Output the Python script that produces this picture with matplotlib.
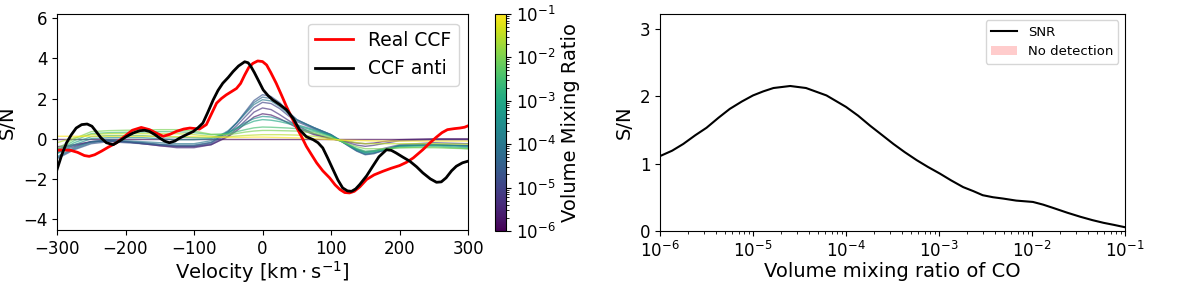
import matplotlib
matplotlib.use("Agg")
import matplotlib.pyplot as plt
import numpy as np
from matplotlib.colors import LogNorm
from matplotlib.patches import Patch
from matplotlib.lines import Line2D

# --- left panel: CCFs ---
v_real = [-300, -290, -280, -270, -260, -253, -245, -235, -225, -213, -200, -190, -177, -165, -155,
          -145, -135, -126, -115, -106, -92, -82, -75, -67, -60, -53, -45, -38, -32, -26, -20, -14,
          -7, 0, 6, 12, 20, 28, 35, 42, 49, 57, 64, 72, 79, 88, 98, 106, 113, 120, 127, 134, 142,
          152, 163, 176, 188, 200, 210, 220, 234, 244, 254, 262, 270, 280, 288, 295, 300]
snr_real = [-0.58, -0.56, -0.58, -0.68, -0.84, -0.88, -0.8, -0.62, -0.42, -0.2, 0.15, 0.42, 0.56, 0.45, 0.28,
            0.12, 0.22, 0.36, 0.48, 0.53, 0.48, 0.7, 1.2, 1.77, 2.0, 2.18, 2.35, 2.5, 2.75, 3.17, 3.55, 3.75,
            3.87, 3.84, 3.67, 3.3, 2.76, 2.15, 1.6, 1.1, 0.61, 0.1, -0.38, -0.82, -1.2, -1.6, -1.95, -2.3, -2.53, -2.68, -2.7, -2.62, -2.4,
            -2.03, -1.8, -1.62, -1.47, -1.34, -1.18, -0.96, -0.55, -0.22, 0.08, 0.3, 0.45, 0.5, 0.53, 0.57, 0.64]

v_anti = [-300, -293, -286, -279, -272, -264, -256, -249, -243, -236, -228, -218, -208, -199, -189,
          -179, -172, -165, -157, -150, -143, -136, -128, -121, -111, -101, -94, -87, -80, -72, -65,
          -58, -50, -43, -35, -26, -21, -17, -12, -6, 1, 8, 15, 25, 35, 45, 54, 64, 74, 81, 88, 95,
          103, 110, 117, 124, 130, 136, 142, 152, 161, 170, 181, 188, 195, 205, 215, 225, 234, 245,
          254, 261, 268, 276, 283, 292, 300]
snr_anti = [-1.54, -0.8, -0.2, 0.2, 0.53, 0.7, 0.73, 0.62, 0.36, 0.05, -0.2, -0.3, -0.1, 0.1, 0.28,
            0.4, 0.42, 0.36, 0.2, 0.03, -0.12, -0.2, -0.12, 0.03, 0.2, 0.36, 0.55, 0.78, 1.3, 1.93, 2.4,
            2.76, 3.05, 3.34, 3.62, 3.83, 3.78, 3.6, 3.3, 2.9, 2.43, 2.15, 1.93, 1.7, 1.44, 1.0, 0.45, 0.1, -0.05, -0.2, -0.46, -0.95,
            -1.54, -2.05, -2.45, -2.6, -2.62, -2.5, -2.28, -1.85, -1.37, -0.9, -0.55, -0.58, -0.71, -0.92, -1.12, -1.4, -1.7, -2.0,
            -2.17, -2.15, -1.95, -1.6, -1.37, -1.2, -1.12]

# injected model CCFs for a grid of volume mixing ratios
v_model = [-300, -275, -250, -225, -200, -175, -150, -125, -100, -75, -50, -37.5, -25, -12.5, 0,
           12.5, 25, 37.5, 50, 75, 100, 125, 137.5, 150, 162.5, 175, 200, 250, 300]
vmr_model = [1e-6, 2e-6, 5e-6, 1e-5, 2e-5, 5e-5, 1e-4, 3e-4, 1e-3, 3e-3, 1e-2, 3e-2, 1e-1]
snr_model = [
    [0.0] * 29,
    [-0.4, -0.3, -0.15, -0.1, -0.15, -0.25, -0.35, -0.4, -0.4, -0.3, 0.1, 0.4, 0.75, 1.08, 1.24, 1.18, 1.0, 0.78, 0.55, 0.2, 0.0, -0.15, -0.22, -0.25, -0.22, -0.15, -0.05, 0.0, 0.0],
    [-0.5, -0.35, -0.15, -0.1, -0.15, -0.25, -0.35, -0.45, -0.45, -0.3, 0.15, 0.5, 0.9, 1.32, 1.53, 1.45, 1.2, 0.92, 0.65, 0.25, 0.0, -0.2, -0.32, -0.38, -0.33, -0.25, -0.1, -0.05, -0.05],
    [-0.7, -0.4, -0.15, -0.1, -0.15, -0.2, -0.3, -0.38, -0.38, -0.25, 0.25, 0.65, 1.1, 1.55, 1.81, 1.75, 1.5, 1.15, 0.85, 0.5, 0.15, -0.3, -0.52, -0.65, -0.6, -0.5, -0.3, -0.2, -0.25],
    [-1.0, -0.55, -0.25, -0.15, -0.2, -0.25, -0.3, -0.35, -0.35, -0.2, 0.35, 0.8, 1.35, 1.9, 2.19, 2.1, 1.8, 1.35, 0.95, 0.55, 0.2, -0.35, -0.62, -0.8, -0.75, -0.6, -0.35, -0.3, -0.35],
    [-0.95, -0.5, -0.2, -0.1, -0.15, -0.2, -0.28, -0.32, -0.32, -0.18, 0.35, 0.78, 1.3, 1.8, 2.07, 2.0, 1.7, 1.3, 0.95, 0.55, 0.2, -0.35, -0.6, -0.78, -0.72, -0.6, -0.35, -0.3, -0.35],
    [-0.9, -0.45, -0.15, -0.05, -0.1, -0.15, -0.2, -0.25, -0.25, -0.1, 0.4, 0.8, 1.25, 1.7, 1.94, 1.88, 1.6, 1.25, 0.92, 0.55, 0.2, -0.3, -0.58, -0.75, -0.7, -0.6, -0.35, -0.3, -0.35],
    [-0.75, -0.3, 0.0, 0.05, 0.05, 0.05, 0.0, -0.05, -0.05, 0.0, 0.3, 0.55, 0.8, 1.0, 1.11, 1.08, 0.95, 0.82, 0.7, 0.45, 0.15, -0.3, -0.55, -0.7, -0.65, -0.55, -0.35, -0.3, -0.4],
    [-0.7, -0.2, 0.1, 0.15, 0.15, 0.15, 0.1, 0.08, 0.05, 0.05, 0.3, 0.5, 0.7, 0.87, 0.95, 0.92, 0.85, 0.75, 0.65, 0.4, 0.15, -0.3, -0.52, -0.68, -0.63, -0.55, -0.4, -0.35, -0.45],
    [-0.6, -0.1, 0.25, 0.3, 0.32, 0.33, 0.35, 0.35, 0.3, 0.2, 0.25, 0.35, 0.45, 0.54, 0.58, 0.57, 0.55, 0.53, 0.5, 0.35, 0.1, -0.3, -0.48, -0.62, -0.6, -0.55, -0.45, -0.4, -0.5],
    [-0.5, 0.0, 0.35, 0.4, 0.42, 0.43, 0.45, 0.45, 0.38, 0.22, 0.2, 0.26, 0.33, 0.38, 0.41, 0.41, 0.4, 0.39, 0.38, 0.28, 0.05, -0.25, -0.4, -0.5, -0.5, -0.5, -0.45, -0.45, -0.5],
    [-0.2, 0.05, 0.2, 0.25, 0.25, 0.25, 0.25, 0.25, 0.2, 0.12, 0.1, 0.13, 0.16, 0.18, 0.2, 0.2, 0.2, 0.19, 0.18, 0.12, 0.0, -0.12, -0.2, -0.25, -0.25, -0.25, -0.25, -0.25, -0.28],
    [0.12, 0.12, 0.12, 0.12, 0.12, 0.12, 0.12, 0.1, 0.1, 0.08, 0.06, 0.06, 0.07, 0.08, 0.08, 0.07, 0.06, 0.05, 0.04, 0.0, -0.05, -0.08, -0.09, -0.1, -0.11, -0.12, -0.12, -0.12, -0.12],
]

# --- right panel: S/N vs VMR (x given as log10 of the VMR) ---
log_vmr_co = [-6.0, -5.87, -5.75, -5.62, -5.5, -5.37, -5.25, -5.12, -5.0, -4.89, -4.78, -4.6,
              -4.43, -4.21, -4.0, -3.87, -3.74, -3.61, -3.49, -3.37, -3.24, -3.12, -2.99, -2.87,
              -2.74, -2.63, -2.53, -2.42, -2.31, -2.17, -1.99, -1.88, -1.77, -1.62, -1.48, -1.35,
              -1.23, -1.12, -1.0]
snr_co = [1.11, 1.19, 1.29, 1.42, 1.53, 1.68, 1.81, 1.92, 2.01, 2.07, 2.12, 2.15,
          2.12, 2.01, 1.84, 1.71, 1.56, 1.42, 1.29, 1.17, 1.05, 0.95, 0.85, 0.75,
          0.65, 0.59, 0.53, 0.5, 0.48, 0.45, 0.43, 0.39, 0.34, 0.27, 0.21, 0.16,
          0.12, 0.09, 0.055]

fig = plt.figure(figsize=(12, 2.83), dpi=100)
ax1 = fig.add_axes([0.0475, 0.187, 0.3425, 0.763])
cax = fig.add_axes([0.4125, 0.184, 0.0092, 0.767])
ax2 = fig.add_axes([0.55, 0.184, 0.3875, 0.767])

norm = LogNorm(vmin=1e-6, vmax=1e-1)
cmap = plt.get_cmap("viridis")
for vmr, snr in zip(vmr_model, snr_model):
    ax1.plot(v_model, snr, color=cmap(norm(vmr)), lw=1, alpha=0.65)

ax1.plot(v_real, snr_real, color="red", lw=2, label="Real CCF")
ax1.plot(v_anti, snr_anti, color="black", lw=2, label="CCF anti")
ax1.set_xlim(-300, 300)
ax1.set_ylim(-4.55, 6.2)
ax1.set_xticks([-300, -200, -100, 0, 100, 200, 300])
ax1.set_yticks([-4, -2, 0, 2, 4, 6])
ax1.tick_params(labelsize=12)
ax1.set_xlabel(r"Velocity [$\mathrm{km \cdot s^{-1}}$]", fontsize=14, labelpad=1)
ax1.set_ylabel("S/N", fontsize=14)
ax1.legend(loc="upper right", fontsize=13.5)

sm = plt.cm.ScalarMappable(norm=norm, cmap=cmap)
cb = fig.colorbar(sm, cax=cax)
cb.set_label("Volume Mixing Ratio", fontsize=14)
cb.ax.tick_params(labelsize=12)

ax2.plot(10.0 ** np.array(log_vmr_co), snr_co, color="black", lw=1.5)
ax2.set_xscale("log")
ax2.set_xlim(1e-6, 1e-1)
ax2.set_ylim(0, 3.22)
ax2.set_yticks([0, 1, 2, 3])
ax2.tick_params(labelsize=12)
ax2.set_xlabel("Volume mixing ratio of CO", fontsize=14, labelpad=1)
ax2.set_ylabel("S/N", fontsize=14)
handles = [Line2D([], [], color="black", lw=1.5),
           Patch(facecolor="red", alpha=0.2)]
ax2.legend(handles, ["SNR", "No detection"], loc="upper right", fontsize=9.5)

fig.savefig("out.png", dpi=100)
